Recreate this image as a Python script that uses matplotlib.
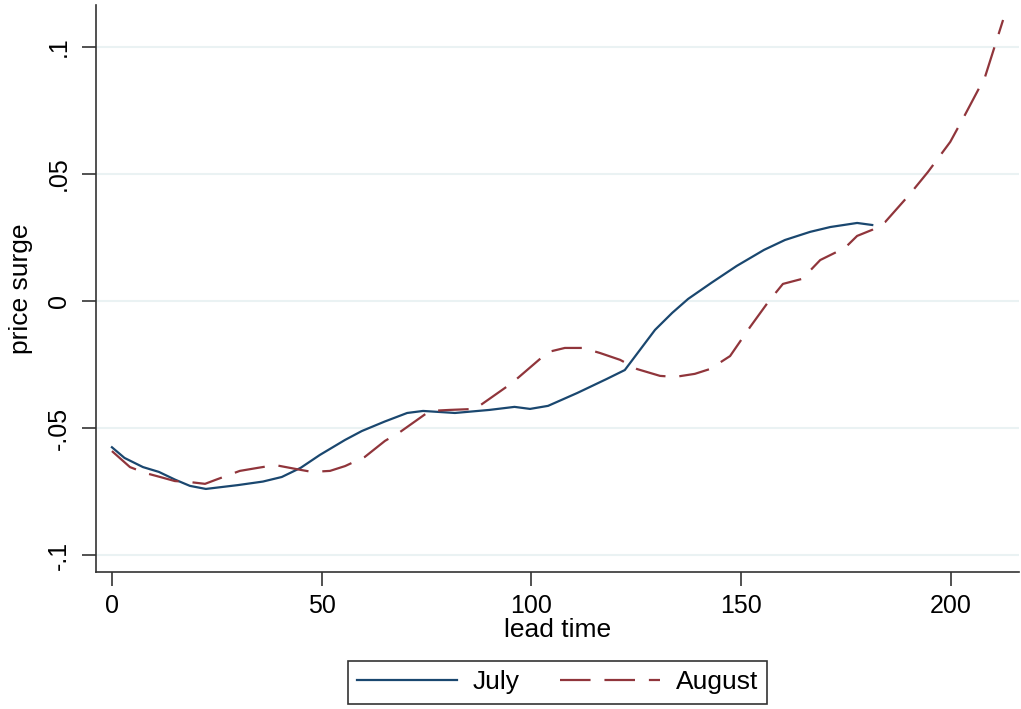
import matplotlib
matplotlib.use('Agg')
import matplotlib.pyplot as plt

plt.rcParams['font.family'] = ['Liberation Sans', 'DejaVu Sans']
plt.rcParams['lines.scale_dashes'] = False

# lead time / price surge
july_x = [0, 3, 7.4, 11.2, 15, 18.6, 22.4, 30, 36, 40.5, 45, 49.6, 55.6, 59.6,
          65, 70.4, 74.2, 81.8, 90, 96, 99.7, 104, 111, 118, 122.3, 129.5,
          133.6, 137.4, 143, 149, 155.5, 160.5, 166.5, 171.3, 177.7, 181.3]
july_y = [-0.0576, -0.0618, -0.0654, -0.0673, -0.0703, -0.0728, -0.0740,
          -0.0725, -0.0711, -0.0693, -0.0657, -0.0606, -0.0547, -0.0512,
          -0.0475, -0.0441, -0.0433, -0.0441, -0.0429, -0.0417, -0.0425,
          -0.0413, -0.0362, -0.0307, -0.0272, -0.0114, -0.0047, 0.0008,
          0.0072, 0.0138, 0.0201, 0.0240, 0.0272, 0.0291, 0.0307, 0.0299]

aug_x = [0, 4.3, 7.9, 11.5, 15, 18.6, 22.2, 24.6, 30.5, 34.8, 38.9, 45, 47.7,
         52, 55.6, 60.3, 65.1, 68.7, 75.8, 80.5, 86.6, 95.4, 104, 108, 112.3,
         116.4, 121.2, 125.2, 130.7, 134.3, 139, 142.6, 147.4, 152.2, 156.5,
         160, 164.6, 168.9, 174.8, 177.7, 181.3, 184.4, 190.3, 194.6, 199.9,
         203.4, 208.2, 212.5]
aug_y = [-0.0591, -0.0654, -0.0677, -0.0693, -0.0709, -0.0713, -0.0720,
         -0.0705, -0.0669, -0.0657, -0.0646, -0.0665, -0.0673, -0.0669,
         -0.0650, -0.0614, -0.0551, -0.0516, -0.0433, -0.0429, -0.0425,
         -0.0323, -0.0201, -0.0185, -0.0185, -0.0205, -0.0232, -0.0268,
         -0.0295, -0.0299, -0.0287, -0.0268, -0.0217, -0.0102, -0.0004,
         0.0067, 0.0087, 0.0161, 0.0209, 0.0256, 0.0280, 0.0311, 0.0421,
         0.0508, 0.0626, 0.0732, 0.0882, 0.1106]

x_ticks = [0, 50, 100, 150, 200]
y_ticks = [-0.1, -0.05, 0, 0.05, 0.1]
y_labels = ['-.1', '-.05', '0', '.05', '.1']

W, H = 1021, 709
fig = plt.figure(figsize=(W / 100, H / 100), dpi=100)
ax = fig.add_axes([96 / W, (H - 572) / H, (1019 - 96) / W, (572 - 5) / H])

ax.plot(july_x, july_y, color='#1a476f', lw=1.6, label='July')
ax.plot(aug_x, aug_y, color='#90353b', lw=1.6, dashes=(22, 10), label='August')

ax.set_xlim(-3.8, 216.3)
ax.set_ylim(-0.1067, 0.1165)
ax.set_xticks(x_ticks)
ax.set_yticks(y_ticks)
ax.set_yticklabels(y_labels, rotation=90, va='center')
ax.tick_params(labelsize=18, length=10, width=1.2, direction='out', color='#333333')
ax.tick_params(axis='y', pad=8)
ax.tick_params(axis='x', pad=6)
ax.grid(axis='y', color='#eaf2f3', lw=1.5)
ax.set_axisbelow(True)

for side in ['top', 'right']:
    ax.spines[side].set_visible(False)
for side in ['left', 'bottom']:
    ax.spines[side].set_linewidth(1.2)
    ax.spines[side].set_color('#333333')

ax.set_xlabel('lead time', fontsize=19, labelpad=0)
ax.set_ylabel('price surge', fontsize=19, labelpad=10)

leg = fig.legend(loc='center', bbox_to_anchor=(557.5 / W, (H - 682.5) / H),
                 ncol=2, fontsize=19, frameon=True, fancybox=False,
                 edgecolor='black', handlelength=3.8, columnspacing=1.5,
                 borderpad=0.35, handletextpad=0.6)
leg.get_frame().set_linewidth(1.2)

fig.savefig('out.png', dpi=100)
